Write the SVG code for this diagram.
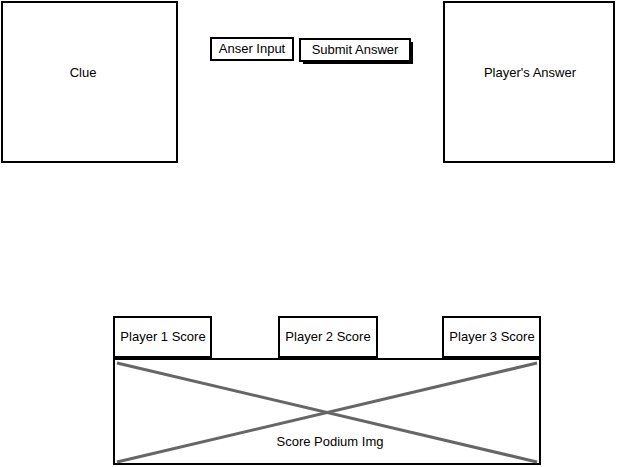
<svg xmlns="http://www.w3.org/2000/svg" width="620" height="467" viewBox="0 0 620 467">
<style>
.box{fill:#fff;stroke:#000;stroke-width:2}
.t{font-family:"Liberation Sans",Arial,sans-serif;font-size:13px;fill:#000;text-anchor:middle}
.x{stroke:#666;stroke-width:3;fill:none}
</style>
<rect width="620" height="467" fill="#fff"/>
<g id="clue"><rect class="box" x="2" y="2" width="175" height="160"/><text class="t" x="83" y="77">Clue</text></g>
<g id="answer-input"><rect class="box" x="211" y="38" width="82" height="22"/><text class="t" x="252" y="53">Anser Input</text></g>
<g id="submit"><rect x="303" y="42" width="110" height="22" fill="#000"/><rect class="box" x="300" y="39" width="110" height="22"/><text class="t" x="355" y="54">Submit Answer</text></g>
<g id="players-answer"><rect class="box" x="444" y="2" width="170" height="160"/><text class="t" x="530" y="77">Player's Answer</text></g>
<g id="p1"><rect class="box" x="114" y="317" width="97" height="40"/><text class="t" x="163" y="341">Player 1 Score</text></g>
<g id="p2"><rect class="box" x="279" y="317" width="98" height="40"/><text class="t" x="328" y="341">Player 2 Score</text></g>
<g id="p3"><rect class="box" x="443" y="317" width="97" height="40"/><text class="t" x="492" y="341">Player 3 Score</text></g>
<g id="podium"><rect class="box" x="114" y="359" width="426" height="105"/>
<line class="x" x1="117" y1="363" x2="537" y2="462"/><line class="x" x1="117" y1="462" x2="537" y2="363"/>
<text class="t" x="330" y="446">Score Podium Img</text></g>
<g id="connectors"></g>
</svg>
